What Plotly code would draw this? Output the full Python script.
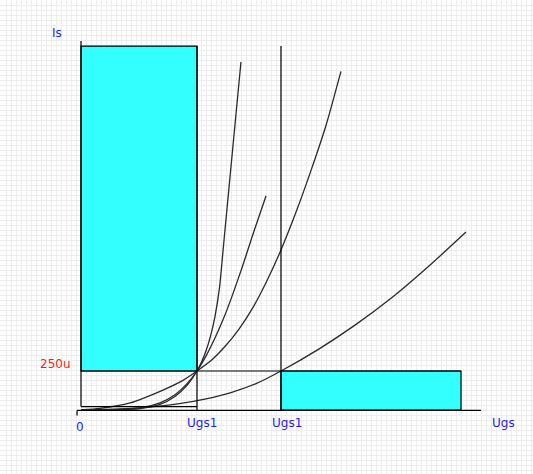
import plotly.graph_objects as go

# Transfer characteristics Is(Ugs): Ugs in V, Is in µA
UGS1_A = 1.0
UGS1_B = 1.724
UGS_RECT_END = 3.276
IS_250 = 250
IS_TOP = 2333
IS_OFFSET = 22
AXIS_Y_TOP = 2365
AXIS_X_END = 3.448

curve_a_x = [0, 0.25, 0.509, 0.681, 0.81, 0.914, 1.0, 1.039, 1.078, 1.116, 1.155, 1.194, 1.233, 1.306, 1.379]
curve_a_y = [0, 0.2, 9, 36, 87, 158, 250, 308, 380, 472, 599, 784, 1090, 1662, 2231]

curve_b_x = [0, 0.25, 0.509, 0.681, 0.81, 0.914, 1.0, 1.078, 1.155, 1.233, 1.31, 1.388, 1.466, 1.53, 1.595]
curve_b_y = [0, 1, 13, 46, 98, 169, 250, 347, 462, 594, 746, 912, 1090, 1231, 1372]

curve_c_x = [0, 0.164, 0.422, 0.707, 0.879, 1.0, 1.121, 1.241, 1.362, 1.483, 1.603,
             1.724, 1.853, 1.983, 2.112, 2.241]
curve_c_y = [0, 10, 45, 128, 190, 250, 317, 407, 519, 658, 829,
             1026, 1267, 1536, 1824, 2171]

curve_d_x = [0, 0.216, 0.431, 0.647, 0.862, 1.078, 1.293, 1.509, 1.724, 2.043, 2.362, 2.681, 3.0, 3.319]
curve_d_y = [0, 4, 11, 23, 43, 72, 112, 169, 250, 387, 544, 721, 923, 1141]

CYAN = "#33ffff"
BLUE = "#2222ff"
RED = "#ff1a1a"

PX_X = 116          # px per volt
PX_Y = 39 / 250     # px per µA
W, H = 533, 474
X0, Y0 = 81, 410    # origin in px

fig = go.Figure()

# rectangles and guide lines
fig.add_shape(type="rect", x0=0, x1=UGS1_A, y0=IS_250, y1=IS_TOP,
              fillcolor=CYAN, line=dict(color="black", width=1.2), layer="above")
fig.add_shape(type="rect", x0=UGS1_B, x1=UGS_RECT_END, y0=0, y1=IS_250,
              fillcolor=CYAN, line=dict(color="black", width=1.2), layer="above")
for x0, x1, y0, y1 in [
    (0, UGS_RECT_END, IS_250, IS_250),
    (0, UGS1_A, IS_OFFSET, IS_OFFSET),
    (UGS1_A, UGS1_A, 0, IS_TOP),
    (UGS1_B, UGS1_B, 0, IS_TOP),
    (0, 0, IS_OFFSET, AXIS_Y_TOP),
    (-0.034, AXIS_X_END, -3, -3),
    (-0.034, -0.034, -3, -35),
]:
    fig.add_shape(type="line", x0=x0, x1=x1, y0=y0, y1=y1,
                  line=dict(color="black", width=1.2), layer="above")

for cx, cy in [(curve_a_x, curve_a_y), (curve_b_x, curve_b_y),
               (curve_c_x, curve_c_y), (curve_d_x, curve_d_y)]:
    fig.add_trace(go.Scatter(x=cx, y=cy, mode="lines",
                             line=dict(color="#2a2a2a", width=1.3,
                                       shape="spline", smoothing=0.6),
                             hoverinfo="skip"))

labels = [
    ("Is", -0.207, 2417, BLUE, "center"),
    ("250u", -0.069, 295, RED, "right"),
    ("0", -0.009, -109, BLUE, "center"),
    ("Ugs1", 1.039, -85, BLUE, "center"),
    ("Ugs1", 1.776, -85, BLUE, "center"),
    ("Ugs", 3.638, -85, BLUE, "center"),
]
for text, x, y, color, align in labels:
    fig.add_annotation(x=x, y=y, text=text, showarrow=False,
                       xanchor=align, font=dict(color=color, size=12))

fig.update_layout(
    width=W, height=H,
    margin=dict(l=0, r=0, t=0, b=0),
    paper_bgcolor="white", plot_bgcolor="white",
    showlegend=False,
    font=dict(family="DejaVu Sans, Verdana, sans-serif"),
)
fig.update_xaxes(range=[-X0 / PX_X, (W - X0) / PX_X], showticklabels=False,
                 ticks="", zeroline=False, showline=False,
                 gridcolor="#ededed", gridwidth=1, tick0=0, dtick=5 / PX_X)
fig.update_yaxes(range=[-(H - Y0) / PX_Y, Y0 / PX_Y], showticklabels=False,
                 ticks="", zeroline=False, showline=False,
                 gridcolor="#ededed", gridwidth=1, tick0=0, dtick=5 / PX_Y)

fig.write_html("out.html", config={"displayModeBar": False},
               post_script="document.body.style.margin='0';")
